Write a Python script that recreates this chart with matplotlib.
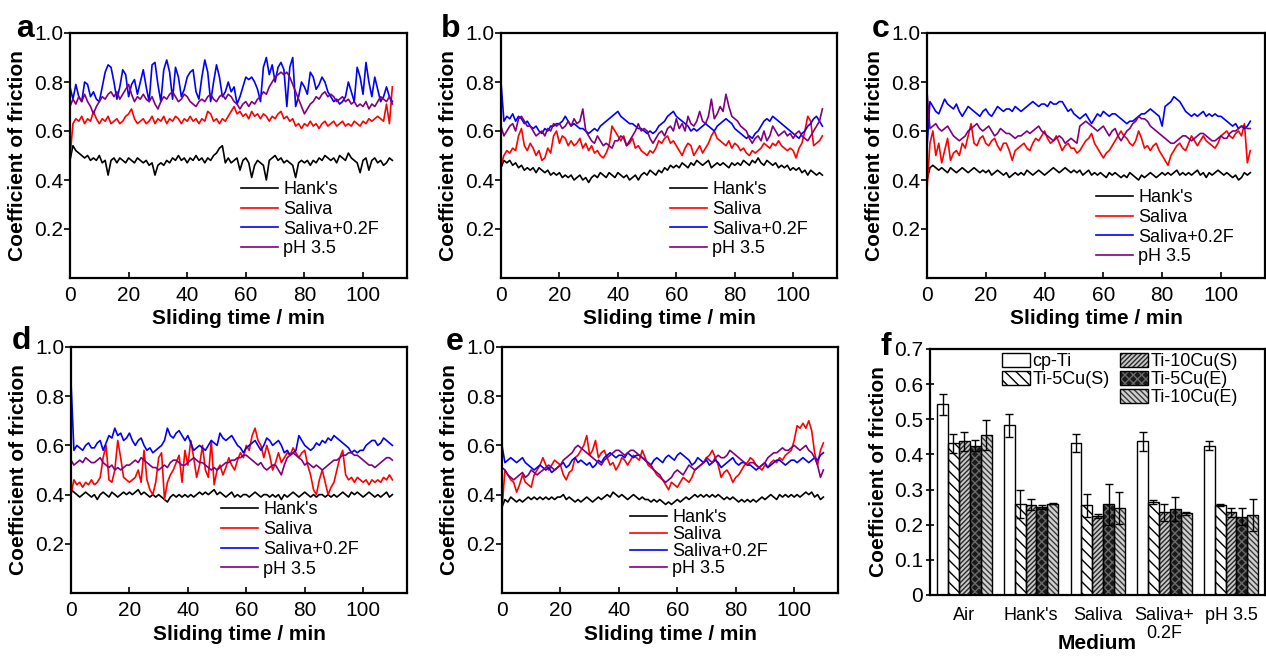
import numpy as np
import matplotlib
matplotlib.use("Agg")
import matplotlib.pyplot as plt
from matplotlib.patches import Patch

plt.rcParams['font.family'] = ['Liberation Sans', 'DejaVu Sans']
plt.rcParams['hatch.linewidth'] = 1.0

# ---------------- data ----------------
time_min = np.arange(0, 111)  # sliding time, 1-min sampling

a_hank = [0.48,0.54,0.52,0.51,0.50,0.49,0.50,0.48,0.49,0.48,
 0.50,0.47,0.48,0.42,0.48,0.49,0.47,0.49,0.48,0.47,
 0.49,0.48,0.47,0.49,0.48,0.47,0.48,0.46,0.47,0.42,
 0.46,0.47,0.46,0.48,0.47,0.49,0.48,0.50,0.48,0.49,
 0.47,0.49,0.48,0.50,0.48,0.49,0.47,0.49,0.48,0.50,
 0.51,0.53,0.54,0.47,0.49,0.47,0.48,0.49,0.44,0.48,
 0.49,0.47,0.41,0.46,0.48,0.47,0.46,0.40,0.48,0.49,
 0.50,0.48,0.49,0.47,0.48,0.47,0.46,0.41,0.47,0.48,
 0.47,0.48,0.46,0.48,0.47,0.49,0.48,0.50,0.49,0.48,
 0.49,0.47,0.50,0.49,0.48,0.51,0.49,0.48,0.47,0.43,
 0.48,0.49,0.44,0.48,0.49,0.47,0.48,0.46,0.47,0.49,
 0.48]
a_saliva = [0.49,0.63,0.65,0.64,0.66,0.63,0.65,0.64,0.68,0.65,
 0.63,0.65,0.64,0.66,0.63,0.64,0.65,0.63,0.64,0.66,
 0.67,0.69,0.65,0.63,0.64,0.65,0.63,0.64,0.66,0.63,
 0.65,0.64,0.66,0.63,0.65,0.64,0.66,0.65,0.63,0.65,
 0.64,0.66,0.64,0.65,0.63,0.65,0.64,0.68,0.67,0.64,
 0.65,0.63,0.65,0.64,0.66,0.68,0.70,0.67,0.68,0.66,
 0.67,0.65,0.68,0.66,0.67,0.65,0.67,0.66,0.64,0.66,
 0.65,0.67,0.68,0.65,0.66,0.64,0.65,0.62,0.63,0.61,
 0.63,0.62,0.64,0.62,0.63,0.61,0.63,0.64,0.62,0.63,
 0.64,0.62,0.63,0.64,0.62,0.63,0.62,0.64,0.63,0.62,
 0.64,0.63,0.65,0.64,0.65,0.66,0.65,0.64,0.71,0.63,
 0.78]
a_saliva_f = [0.78,0.73,0.79,0.74,0.72,0.80,0.79,0.74,0.76,0.73,
 0.72,0.78,0.84,0.87,0.86,0.80,0.73,0.78,0.85,0.83,
 0.74,0.79,0.81,0.75,0.80,0.85,0.78,0.72,0.87,0.88,
 0.79,0.72,0.85,0.89,0.84,0.73,0.86,0.82,0.74,0.77,
 0.82,0.84,0.85,0.76,0.73,0.82,0.89,0.84,0.72,0.80,
 0.87,0.82,0.74,0.76,0.80,0.76,0.78,0.71,0.74,0.78,
 0.82,0.81,0.82,0.80,0.77,0.72,0.86,0.90,0.83,0.87,
 0.80,0.86,0.88,0.85,0.70,0.86,0.90,0.70,0.74,0.80,
 0.78,0.75,0.84,0.82,0.77,0.79,0.82,0.80,0.76,0.74,
 0.72,0.73,0.71,0.72,0.74,0.80,0.76,0.72,0.86,0.82,
 0.75,0.88,0.80,0.74,0.82,0.77,0.72,0.74,0.78,0.74,
 0.72]
a_ph35 = [0.70,0.73,0.71,0.74,0.72,0.75,0.72,0.70,0.67,0.70,
 0.72,0.74,0.73,0.75,0.76,0.74,0.76,0.73,0.75,0.77,
 0.79,0.75,0.72,0.74,0.73,0.75,0.73,0.72,0.74,0.71,
 0.69,0.72,0.74,0.73,0.75,0.76,0.74,0.72,0.73,0.75,
 0.74,0.72,0.71,0.70,0.72,0.73,0.72,0.74,0.75,0.73,
 0.72,0.74,0.75,0.73,0.75,0.74,0.72,0.71,0.69,0.71,
 0.72,0.70,0.72,0.71,0.73,0.74,0.76,0.75,0.78,0.80,
 0.82,0.83,0.84,0.83,0.84,0.82,0.79,0.76,0.73,0.70,
 0.67,0.69,0.71,0.72,0.74,0.73,0.75,0.76,0.74,0.75,
 0.74,0.72,0.73,0.74,0.72,0.73,0.71,0.72,0.70,0.71,
 0.70,0.72,0.69,0.71,0.70,0.72,0.74,0.73,0.72,0.74,
 0.71]

b_hank = [0.45,0.48,0.47,0.48,0.46,0.47,0.45,0.46,0.44,0.45,
 0.44,0.45,0.43,0.45,0.44,0.43,0.44,0.42,0.43,0.42,
 0.43,0.41,0.42,0.41,0.42,0.40,0.41,0.42,0.40,0.41,
 0.39,0.41,0.42,0.41,0.43,0.42,0.41,0.43,0.42,0.41,
 0.43,0.42,0.41,0.42,0.40,0.41,0.42,0.40,0.42,0.43,
 0.42,0.44,0.43,0.42,0.44,0.43,0.45,0.44,0.46,0.45,
 0.46,0.45,0.47,0.46,0.45,0.47,0.46,0.48,0.47,0.46,
 0.47,0.48,0.45,0.46,0.47,0.46,0.47,0.46,0.45,0.47,
 0.46,0.47,0.46,0.48,0.47,0.46,0.48,0.47,0.49,0.47,
 0.46,0.48,0.47,0.46,0.47,0.45,0.46,0.45,0.46,0.44,
 0.45,0.44,0.45,0.43,0.44,0.42,0.44,0.43,0.42,0.43,
 0.42]
b_saliva = [0.46,0.50,0.52,0.51,0.53,0.52,0.58,0.61,0.54,0.52,
 0.55,0.53,0.50,0.52,0.48,0.49,0.53,0.51,0.58,0.60,
 0.55,0.58,0.57,0.54,0.56,0.54,0.55,0.57,0.53,0.55,
 0.52,0.54,0.51,0.52,0.50,0.49,0.51,0.54,0.62,0.60,
 0.58,0.56,0.58,0.54,0.55,0.57,0.53,0.54,0.52,0.51,
 0.50,0.52,0.51,0.53,0.56,0.55,0.57,0.58,0.55,0.56,
 0.54,0.52,0.50,0.53,0.55,0.54,0.50,0.52,0.54,0.51,
 0.53,0.55,0.58,0.60,0.57,0.56,0.55,0.54,0.56,0.53,
 0.55,0.54,0.52,0.53,0.51,0.50,0.52,0.51,0.52,0.53,
 0.55,0.54,0.53,0.55,0.54,0.56,0.54,0.53,0.52,0.53,
 0.52,0.49,0.53,0.55,0.60,0.66,0.64,0.54,0.55,0.56,
 0.58]
b_saliva_f = [0.80,0.64,0.66,0.65,0.67,0.64,0.66,0.65,0.63,0.64,
 0.62,0.61,0.62,0.60,0.59,0.61,0.60,0.62,0.62,0.63,
 0.63,0.64,0.66,0.64,0.62,0.63,0.62,0.61,0.61,0.60,
 0.59,0.60,0.61,0.60,0.62,0.63,0.64,0.65,0.66,0.67,
 0.68,0.66,0.65,0.64,0.63,0.63,0.62,0.61,0.61,0.60,
 0.59,0.60,0.59,0.60,0.62,0.63,0.64,0.66,0.67,0.68,
 0.66,0.65,0.64,0.63,0.62,0.60,0.61,0.60,0.61,0.62,
 0.63,0.62,0.61,0.60,0.62,0.63,0.64,0.65,0.64,0.63,
 0.61,0.60,0.59,0.58,0.57,0.58,0.57,0.59,0.60,0.62,
 0.64,0.65,0.64,0.66,0.65,0.64,0.63,0.62,0.61,0.60,
 0.59,0.58,0.57,0.59,0.60,0.62,0.63,0.65,0.66,0.64,
 0.62]
b_ph35 = [0.62,0.58,0.60,0.62,0.63,0.60,0.65,0.66,0.64,0.62,
 0.62,0.60,0.58,0.59,0.60,0.58,0.61,0.60,0.63,0.62,
 0.63,0.61,0.62,0.64,0.62,0.65,0.63,0.64,0.69,0.60,
 0.58,0.56,0.55,0.58,0.56,0.54,0.55,0.54,0.53,0.56,
 0.56,0.58,0.57,0.54,0.56,0.58,0.60,0.63,0.60,0.61,
 0.60,0.57,0.55,0.57,0.59,0.60,0.58,0.61,0.62,0.60,
 0.65,0.61,0.63,0.60,0.66,0.63,0.62,0.64,0.68,0.64,
 0.63,0.66,0.73,0.65,0.67,0.70,0.68,0.75,0.70,0.66,
 0.65,0.64,0.62,0.61,0.60,0.57,0.55,0.57,0.58,0.56,
 0.60,0.56,0.58,0.62,0.60,0.58,0.59,0.60,0.58,0.59,
 0.57,0.59,0.60,0.58,0.57,0.56,0.58,0.60,0.62,0.64,
 0.69]

c_hank = [0.40,0.45,0.46,0.45,0.44,0.45,0.44,0.43,0.45,0.44,
 0.43,0.44,0.45,0.44,0.43,0.44,0.45,0.44,0.43,0.44,
 0.43,0.44,0.42,0.43,0.44,0.43,0.42,0.43,0.41,0.42,
 0.43,0.42,0.43,0.42,0.44,0.43,0.42,0.43,0.44,0.43,
 0.42,0.43,0.44,0.45,0.44,0.43,0.44,0.45,0.44,0.43,
 0.44,0.43,0.44,0.42,0.43,0.44,0.42,0.43,0.42,0.43,
 0.42,0.41,0.43,0.42,0.43,0.42,0.41,0.42,0.41,0.43,
 0.42,0.41,0.40,0.42,0.41,0.42,0.43,0.42,0.41,0.42,
 0.43,0.42,0.43,0.42,0.43,0.44,0.42,0.43,0.42,0.43,
 0.42,0.43,0.44,0.42,0.43,0.41,0.43,0.42,0.43,0.44,
 0.43,0.42,0.43,0.42,0.41,0.42,0.40,0.41,0.43,0.42,
 0.43]
c_saliva = [0.36,0.55,0.60,0.50,0.55,0.47,0.52,0.57,0.48,0.51,
 0.52,0.50,0.55,0.53,0.58,0.63,0.55,0.54,0.57,0.58,
 0.55,0.54,0.56,0.57,0.54,0.52,0.55,0.55,0.52,0.48,
 0.52,0.53,0.54,0.55,0.53,0.52,0.55,0.57,0.56,0.58,
 0.60,0.57,0.55,0.56,0.58,0.55,0.52,0.54,0.55,0.53,
 0.53,0.51,0.52,0.54,0.56,0.57,0.59,0.55,0.53,0.51,
 0.49,0.51,0.52,0.54,0.56,0.58,0.60,0.58,0.57,0.55,
 0.54,0.56,0.60,0.57,0.53,0.54,0.52,0.54,0.55,0.52,
 0.50,0.48,0.46,0.50,0.52,0.54,0.55,0.53,0.52,0.55,
 0.58,0.56,0.54,0.56,0.58,0.56,0.55,0.54,0.53,0.55,
 0.58,0.59,0.60,0.58,0.57,0.59,0.60,0.58,0.63,0.47,
 0.52]
c_saliva_f = [0.53,0.72,0.70,0.68,0.67,0.70,0.73,0.71,0.70,0.69,
 0.71,0.68,0.66,0.68,0.70,0.69,0.68,0.67,0.66,0.68,
 0.69,0.67,0.66,0.68,0.70,0.69,0.68,0.69,0.69,0.68,
 0.70,0.69,0.68,0.69,0.70,0.71,0.72,0.71,0.70,0.71,
 0.71,0.70,0.72,0.71,0.71,0.72,0.72,0.70,0.68,0.69,
 0.67,0.66,0.65,0.66,0.67,0.65,0.63,0.65,0.67,0.66,
 0.68,0.67,0.66,0.67,0.67,0.66,0.65,0.64,0.63,0.64,
 0.64,0.65,0.66,0.67,0.67,0.68,0.69,0.68,0.67,0.66,
 0.62,0.70,0.71,0.72,0.74,0.73,0.72,0.70,0.68,0.67,
 0.66,0.67,0.66,0.67,0.68,0.66,0.67,0.66,0.67,0.66,
 0.66,0.65,0.64,0.63,0.62,0.63,0.61,0.62,0.61,0.62,
 0.64]
c_ph35 = [0.76,0.61,0.62,0.63,0.61,0.60,0.61,0.62,0.60,0.58,
 0.57,0.56,0.57,0.58,0.60,0.61,0.62,0.63,0.61,0.60,
 0.61,0.62,0.60,0.58,0.59,0.61,0.60,0.59,0.59,0.58,
 0.57,0.58,0.58,0.59,0.60,0.59,0.60,0.61,0.62,0.60,
 0.59,0.58,0.57,0.56,0.57,0.58,0.57,0.55,0.56,0.57,
 0.56,0.55,0.62,0.63,0.64,0.63,0.62,0.61,0.60,0.61,
 0.62,0.60,0.58,0.60,0.61,0.58,0.56,0.58,0.60,0.61,
 0.63,0.64,0.66,0.65,0.65,0.64,0.62,0.61,0.60,0.59,
 0.58,0.57,0.56,0.55,0.55,0.56,0.57,0.58,0.58,0.57,
 0.56,0.57,0.58,0.59,0.59,0.58,0.57,0.56,0.56,0.57,
 0.58,0.57,0.57,0.59,0.60,0.60,0.61,0.62,0.62,0.61,
 0.61]

d_hank = [0.42,0.41,0.40,0.39,0.40,0.41,0.40,0.39,0.40,0.38,
 0.40,0.41,0.40,0.39,0.41,0.40,0.39,0.40,0.41,0.40,
 0.41,0.40,0.41,0.42,0.40,0.41,0.40,0.39,0.40,0.39,
 0.40,0.39,0.38,0.37,0.39,0.40,0.39,0.40,0.39,0.40,
 0.39,0.40,0.39,0.40,0.41,0.40,0.41,0.40,0.41,0.42,
 0.40,0.41,0.40,0.39,0.40,0.41,0.39,0.40,0.39,0.40,
 0.40,0.39,0.40,0.41,0.40,0.39,0.40,0.40,0.39,0.40,
 0.39,0.40,0.38,0.40,0.39,0.40,0.41,0.40,0.39,0.40,
 0.41,0.40,0.39,0.40,0.39,0.40,0.40,0.39,0.40,0.39,
 0.40,0.39,0.40,0.41,0.40,0.39,0.41,0.40,0.41,0.40,
 0.39,0.40,0.41,0.40,0.39,0.40,0.39,0.40,0.41,0.39,
 0.40]
d_saliva = [0.40,0.46,0.44,0.45,0.43,0.45,0.44,0.46,0.44,0.45,
 0.47,0.55,0.60,0.46,0.45,0.50,0.62,0.55,0.47,0.46,
 0.45,0.46,0.47,0.50,0.45,0.58,0.46,0.42,0.40,0.45,
 0.55,0.57,0.38,0.45,0.48,0.50,0.53,0.56,0.45,0.58,
 0.52,0.62,0.55,0.47,0.52,0.60,0.50,0.47,0.62,0.44,
 0.50,0.52,0.48,0.51,0.55,0.52,0.50,0.54,0.57,0.55,
 0.60,0.58,0.64,0.67,0.62,0.60,0.55,0.60,0.56,0.50,
 0.53,0.57,0.53,0.55,0.57,0.56,0.59,0.57,0.55,0.57,
 0.58,0.52,0.48,0.42,0.40,0.46,0.50,0.45,0.40,0.43,
 0.45,0.50,0.55,0.58,0.48,0.46,0.47,0.45,0.47,0.46,
 0.45,0.46,0.44,0.46,0.45,0.46,0.45,0.47,0.46,0.48,
 0.46]
d_saliva_f = [0.86,0.58,0.60,0.59,0.58,0.60,0.61,0.59,0.59,0.61,
 0.62,0.58,0.61,0.64,0.63,0.67,0.64,0.65,0.62,0.63,
 0.65,0.62,0.60,0.62,0.63,0.60,0.58,0.59,0.57,0.58,
 0.59,0.60,0.62,0.67,0.64,0.63,0.65,0.66,0.64,0.62,
 0.64,0.61,0.58,0.59,0.60,0.59,0.58,0.60,0.62,0.61,
 0.60,0.65,0.63,0.62,0.63,0.64,0.62,0.60,0.59,0.57,
 0.59,0.60,0.61,0.62,0.60,0.58,0.60,0.63,0.62,0.60,
 0.61,0.62,0.60,0.57,0.58,0.56,0.57,0.58,0.64,0.62,
 0.60,0.59,0.58,0.59,0.61,0.60,0.62,0.61,0.63,0.62,
 0.64,0.63,0.62,0.61,0.60,0.59,0.57,0.58,0.57,0.58,
 0.58,0.60,0.61,0.62,0.62,0.60,0.61,0.63,0.62,0.61,
 0.60]
d_ph35 = [0.54,0.52,0.53,0.54,0.53,0.55,0.54,0.53,0.53,0.54,
 0.55,0.53,0.52,0.51,0.52,0.50,0.51,0.50,0.51,0.52,
 0.52,0.53,0.54,0.53,0.55,0.54,0.53,0.52,0.51,0.51,
 0.50,0.51,0.52,0.51,0.53,0.54,0.54,0.53,0.52,0.52,
 0.53,0.54,0.55,0.54,0.53,0.53,0.52,0.51,0.50,0.51,
 0.50,0.51,0.52,0.53,0.53,0.54,0.54,0.55,0.55,0.56,
 0.56,0.55,0.54,0.53,0.52,0.53,0.51,0.50,0.51,0.52,
 0.52,0.50,0.48,0.52,0.55,0.56,0.57,0.56,0.55,0.54,
 0.52,0.53,0.52,0.51,0.52,0.51,0.50,0.51,0.52,0.53,
 0.54,0.54,0.55,0.56,0.56,0.57,0.57,0.56,0.56,0.55,
 0.54,0.53,0.52,0.52,0.51,0.52,0.53,0.54,0.55,0.55,
 0.54]

e_hank = [0.35,0.38,0.37,0.39,0.38,0.37,0.38,0.37,0.38,0.39,
 0.38,0.39,0.38,0.39,0.38,0.39,0.38,0.39,0.38,0.39,
 0.39,0.40,0.38,0.39,0.38,0.37,0.38,0.37,0.38,0.39,
 0.38,0.37,0.38,0.39,0.38,0.39,0.40,0.39,0.41,0.40,
 0.39,0.40,0.39,0.38,0.39,0.40,0.39,0.38,0.39,0.38,
 0.38,0.37,0.38,0.37,0.38,0.37,0.36,0.37,0.36,0.37,
 0.38,0.37,0.38,0.39,0.38,0.39,0.40,0.39,0.40,0.39,
 0.40,0.39,0.40,0.39,0.40,0.39,0.38,0.39,0.38,0.39,
 0.38,0.37,0.38,0.37,0.38,0.37,0.38,0.37,0.38,0.39,
 0.38,0.39,0.40,0.39,0.38,0.40,0.39,0.40,0.39,0.40,
 0.39,0.40,0.39,0.40,0.41,0.40,0.41,0.39,0.40,0.38,
 0.39]
e_saliva = [0.34,0.50,0.48,0.46,0.45,0.41,0.44,0.48,0.45,0.44,
 0.43,0.48,0.50,0.52,0.55,0.52,0.50,0.52,0.54,0.53,
 0.52,0.48,0.46,0.49,0.50,0.55,0.56,0.58,0.60,0.64,
 0.56,0.58,0.62,0.55,0.57,0.58,0.55,0.52,0.53,0.50,
 0.52,0.55,0.54,0.52,0.54,0.56,0.55,0.54,0.58,0.55,
 0.52,0.51,0.50,0.48,0.47,0.46,0.44,0.42,0.45,0.44,
 0.43,0.45,0.47,0.46,0.45,0.47,0.50,0.51,0.52,0.53,
 0.55,0.56,0.58,0.55,0.52,0.47,0.49,0.50,0.48,0.45,
 0.47,0.48,0.50,0.52,0.53,0.55,0.54,0.52,0.51,0.50,
 0.52,0.51,0.53,0.54,0.53,0.55,0.54,0.56,0.57,0.58,
 0.62,0.68,0.67,0.69,0.67,0.70,0.66,0.57,0.52,0.58,
 0.61]
e_saliva_f = [0.60,0.53,0.54,0.55,0.54,0.53,0.54,0.55,0.53,0.52,
 0.51,0.50,0.51,0.52,0.51,0.50,0.51,0.49,0.50,0.51,
 0.52,0.53,0.51,0.52,0.54,0.55,0.53,0.54,0.53,0.52,
 0.53,0.51,0.52,0.54,0.53,0.55,0.56,0.57,0.56,0.55,
 0.56,0.56,0.55,0.57,0.56,0.55,0.56,0.56,0.55,0.54,
 0.53,0.52,0.54,0.55,0.54,0.53,0.55,0.56,0.55,0.54,
 0.56,0.57,0.56,0.55,0.54,0.52,0.53,0.55,0.54,0.53,
 0.54,0.52,0.53,0.54,0.53,0.51,0.52,0.53,0.54,0.55,
 0.53,0.52,0.53,0.53,0.52,0.52,0.51,0.50,0.51,0.52,
 0.53,0.51,0.52,0.53,0.54,0.54,0.53,0.52,0.53,0.54,
 0.54,0.53,0.54,0.55,0.54,0.53,0.54,0.55,0.54,0.56,
 0.57]
e_ph35 = [0.51,0.50,0.48,0.47,0.46,0.47,0.48,0.49,0.47,0.48,
 0.50,0.49,0.48,0.49,0.50,0.51,0.52,0.51,0.50,0.51,
 0.52,0.54,0.55,0.56,0.57,0.59,0.60,0.59,0.58,0.57,
 0.56,0.55,0.54,0.53,0.52,0.54,0.55,0.56,0.57,0.58,
 0.58,0.57,0.56,0.57,0.58,0.58,0.57,0.56,0.55,0.54,
 0.53,0.52,0.50,0.49,0.48,0.46,0.45,0.46,0.47,0.49,
 0.50,0.49,0.48,0.50,0.52,0.51,0.50,0.51,0.52,0.53,
 0.55,0.54,0.53,0.55,0.56,0.55,0.55,0.56,0.58,0.57,
 0.56,0.55,0.54,0.53,0.52,0.53,0.53,0.52,0.51,0.52,
 0.53,0.55,0.56,0.57,0.57,0.58,0.59,0.58,0.58,0.59,
 0.60,0.59,0.58,0.59,0.60,0.58,0.57,0.55,0.52,0.47,
 0.50]

series_labels = ["Hank's", "Saliva", "Saliva+0.2F", "pH 3.5"]
series_colors = ['#000000', '#ff0000', '#0000ff', '#800080']
line_xticks = [0, 20, 40, 60, 80, 100]
line_yticks = [0.2, 0.4, 0.6, 0.8, 1.0]
line_ytick_labels = ['0.2', '0.4', '0.6', '0.8', '1.0']

# bar chart (f)
media = ["Air", "Hank's", "Saliva", "Saliva+\n0.2F", "pH 3.5"]
materials = ["cp-Ti", "Ti-5Cu(S)", "Ti-10Cu(S)", "Ti-5Cu(E)", "Ti-10Cu(E)"]
cof_mean = {
    "cp-Ti":      [0.543, 0.483, 0.433, 0.438, 0.425],
    "Ti-5Cu(S)":  [0.432, 0.258, 0.255, 0.265, 0.255],
    "Ti-10Cu(S)": [0.437, 0.257, 0.225, 0.235, 0.235],
    "Ti-5Cu(E)":  [0.425, 0.250, 0.258, 0.245, 0.223],
    "Ti-10Cu(E)": [0.455, 0.260, 0.248, 0.233, 0.228],
}
cof_err = {
    "cp-Ti":      [0.030, 0.032, 0.026, 0.027, 0.013],
    "Ti-5Cu(S)":  [0.027, 0.040, 0.033, 0.006, 0.003],
    "Ti-10Cu(S)": [0.028, 0.015, 0.005, 0.025, 0.012],
    "Ti-5Cu(E)":  [0.015, 0.005, 0.058, 0.035, 0.025],
    "Ti-10Cu(E)": [0.043, 0.002, 0.045, 0.004, 0.045],
}
f_yticks = [0, 0.1, 0.2, 0.3, 0.4, 0.5, 0.6, 0.7]
f_ytick_labels = ['0', '0.1', '0.2', '0.3', '0.4', '0.5', '0.6', '0.7']

# ---------------- figure ----------------
W, H = 1266, 657
fig = plt.figure(figsize=(W / 100, H / 100), dpi=100)

def px_axes(l, t, r, b):
    return fig.add_axes([l / W, 1 - b / H, (r - l) / W, (b - t) / H])

TICK_FS = 15
LAB_FS = 15
LEG_FS = 13

def style_line_axes(ax):
    ax.set_xlim(0, 115)
    ax.set_ylim(0, 1.0)
    ax.set_xticks(line_xticks)
    ax.set_yticks(line_yticks)
    ax.set_yticklabels(line_ytick_labels)
    ax.tick_params(axis='x', direction='in', length=4, width=1.2, pad=6, labelsize=TICK_FS)
    ax.tick_params(axis='y', direction='out', length=4, width=1.2, pad=1, labelsize=TICK_FS)
    for s in ax.spines.values():
        s.set_linewidth(1.6)
    ax.set_xlabel('Sliding time / min', fontsize=LAB_FS, fontweight='bold', labelpad=3)
    ax.set_ylabel('Coefficient of friction', fontsize=LAB_FS, fontweight='bold', labelpad=5)

panels = [
    ((70, 33, 407, 278), [a_hank, a_saliva, a_saliva_f, a_ph35], (0.507, 0.395), 0.15),
    ((501, 33, 837, 278), [b_hank, b_saliva, b_saliva_f, b_ph35], (0.503, 0.395), 0.15),
    ((927, 33, 1265, 278), [c_hank, c_saliva, c_saliva_f, c_ph35], (0.50, 0.362), 0.15),
    ((71, 347, 407, 593), [d_hank, d_saliva, d_saliva_f, d_ph35], (0.446, 0.372), 0.15),
    ((502, 347, 838, 593), [e_hank, e_saliva, e_saliva_f, e_ph35], (0.381, 0.342), 0.0),
]

for box, ys, leg_anchor, lsp in panels:
    ax = px_axes(*box)
    for y, lab, col in zip(ys, series_labels, series_colors):
        n = min(len(y), len(time_min))
        ax.plot(time_min[:n], y[:n], color=col, lw=1.2, label=lab)
    style_line_axes(ax)
    ax.legend(loc='upper left', bbox_to_anchor=leg_anchor, frameon=False,
              fontsize=LEG_FS, handlelength=2.05, handletextpad=0.3,
              labelspacing=lsp, borderpad=0, borderaxespad=0)

# panel letters
for letter, x, y in [('a', 16, 37), ('b', 441, 37), ('c', 872, 37),
                     ('d', 12, 349), ('e', 446, 350), ('f', 881, 355)]:
    fig.text(x / W, 1 - y / H, letter, fontsize=23, fontweight='bold',
             ha='left', va='baseline')

# ---------------- bar chart f ----------------
axf = px_axes(930, 349, 1265, 595)
styles = {
    "cp-Ti":      dict(face='#ffffff', hatch=None, hcol='#000000'),
    "Ti-5Cu(S)":  dict(face='#ffffff', hatch='\\\\\\', hcol='#000000'),
    "Ti-10Cu(S)": dict(face='#c8c8c8', hatch='///////', hcol='#2a2a2a'),
    "Ti-5Cu(E)":  dict(face='#1a1a1a', hatch='xxxx', hcol='#6a6a6a'),
    "Ti-10Cu(E)": dict(face='#d0d0d0', hatch='\\\\\\\\\\\\', hcol='#3a3a3a'),
}
group_x = np.arange(len(media))
bw = 0.163
handles = {}
for j, m in enumerate(materials):
    xs = group_x + (j - 2) * bw
    st = styles[m]
    fill = axf.bar(xs, cof_mean[m], width=bw, color=st['face'],
                   hatch=st['hatch'], edgecolor=st['hcol'], linewidth=0, zorder=2)
    edge = axf.bar(xs, cof_mean[m], width=bw, color='none',
                   edgecolor='#000000', linewidth=1.0, zorder=3)
    axf.errorbar(xs, cof_mean[m], yerr=cof_err[m], fmt='none', ecolor='#000000',
                 elinewidth=1.0, capsize=2.8, capthick=1.0, zorder=4)
    handles[m] = (fill[0], edge[0])

axf.set_xlim(-0.515, 4.51)
axf.set_ylim(0, 0.7)
axf.set_yticks(f_yticks)
axf.set_yticklabels(f_ytick_labels)
axf.set_xticks(group_x)
axf.set_xticklabels(media, fontsize=13, linespacing=1.05)
axf.tick_params(axis='x', length=0, pad=9)
axf.tick_params(axis='y', direction='inout', length=6, width=1.2, pad=2, labelsize=TICK_FS)
for s in axf.spines.values():
    s.set_linewidth(1.6)
axf.set_xlabel('Medium', fontsize=LAB_FS, fontweight='bold', labelpad=-6)
axf.set_ylabel('Coefficient of friction', fontsize=LAB_FS, fontweight='bold', labelpad=4)

blank = Patch(facecolor='none', edgecolor='none')
leg_handles = [handles["cp-Ti"], handles["Ti-5Cu(S)"], blank,
               handles["Ti-10Cu(S)"], handles["Ti-5Cu(E)"], handles["Ti-10Cu(E)"]]
leg_labels = ["cp-Ti", "Ti-5Cu(S)", "", "Ti-10Cu(S)", "Ti-5Cu(E)", "Ti-10Cu(E)"]
axf.legend(leg_handles, leg_labels, ncol=2, loc='upper left', bbox_to_anchor=(0.215, 0.985),
           frameon=False, fontsize=LEG_FS, handlelength=1.55, handleheight=0.8,
           handletextpad=0.15, columnspacing=0.55, labelspacing=0.05,
           borderpad=0, borderaxespad=0)

fig.savefig('out.png', dpi=100)
